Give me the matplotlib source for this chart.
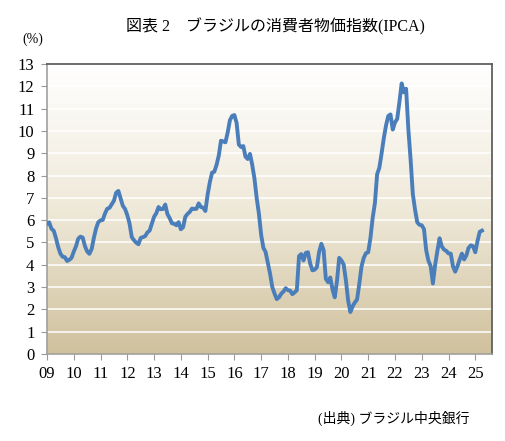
import numpy as np
import matplotlib.pyplot as plt
from matplotlib.colors import LinearSegmentedColormap

# IPCA 12-month change (%), monthly, Jan 2009 - Apr 2025
ipca_2009 = [5.84, 5.90, 5.61, 5.53, 5.20, 4.80, 4.50, 4.36, 4.34, 4.17, 4.22, 4.31]
ipca_2010 = [4.59, 4.83, 5.17, 5.26, 5.22, 4.84, 4.60, 4.49, 4.70, 5.20, 5.63, 5.91]
ipca_2011 = [5.99, 6.01, 6.30, 6.51, 6.55, 6.71, 6.87, 7.23, 7.31, 6.97, 6.64, 6.50]
ipca_2012 = [6.22, 5.85, 5.24, 5.10, 4.99, 4.92, 5.20, 5.24, 5.28, 5.45, 5.53, 5.84]
ipca_2013 = [6.15, 6.31, 6.59, 6.49, 6.50, 6.70, 6.27, 6.09, 5.86, 5.84, 5.77, 5.91]
ipca_2014 = [5.59, 5.68, 6.15, 6.28, 6.37, 6.52, 6.50, 6.51, 6.75, 6.59, 6.56, 6.41]
ipca_2015 = [7.14, 7.70, 8.13, 8.17, 8.47, 8.89, 9.56, 9.53, 9.49, 9.93, 10.48, 10.67]
ipca_2016 = [10.71, 10.36, 9.39, 9.28, 9.32, 8.84, 8.74, 8.97, 8.48, 7.87, 6.99, 6.29]
ipca_2017 = [5.35, 4.76, 4.57, 4.08, 3.60, 3.00, 2.71, 2.46, 2.54, 2.70, 2.80, 2.95]
ipca_2018 = [2.86, 2.84, 2.68, 2.76, 2.86, 4.39, 4.48, 4.19, 4.53, 4.56, 4.05, 3.75]
ipca_2019 = [3.78, 3.89, 4.58, 4.94, 4.66, 3.37, 3.22, 3.43, 2.89, 2.54, 3.27, 4.31]
ipca_2020 = [4.19, 4.01, 3.30, 2.40, 1.88, 2.13, 2.31, 2.44, 3.14, 3.92, 4.31, 4.52]
ipca_2021 = [4.56, 5.20, 6.10, 6.76, 8.06, 8.35, 8.99, 9.68, 10.25, 10.67, 10.74, 10.06]
ipca_2022 = [10.38, 10.54, 11.30, 12.13, 11.73, 11.89, 10.07, 8.73, 7.17, 6.47, 5.90, 5.79]
ipca_2023 = [5.77, 5.60, 4.65, 4.18, 3.94, 3.16, 3.99, 4.61, 5.19, 4.82, 4.68, 4.62]
ipca_2024 = [4.51, 4.50, 3.93, 3.69, 3.93, 4.23, 4.50, 4.24, 4.42, 4.76, 4.87, 4.83]
ipca_2025 = [4.56, 5.06, 5.48, 5.53]

ipca = (ipca_2009 + ipca_2010 + ipca_2011 + ipca_2012 + ipca_2013 + ipca_2014
        + ipca_2015 + ipca_2016 + ipca_2017 + ipca_2018 + ipca_2019 + ipca_2020
        + ipca_2021 + ipca_2022 + ipca_2023 + ipca_2024 + ipca_2025)
year_labels = ['09', '10', '11', '12', '13', '14', '15', '16', '17',
               '18', '19', '20', '21', '22', '23', '24', '25']

mixed = ['Liberation Serif', 'Noto Sans CJK JP']
num_font = 'Liberation Serif'

fig = plt.figure(figsize=(5.06, 4.41), dpi=100)
ax = fig.add_axes([47 / 506, 1 - 354 / 441, 445 / 506, 290 / 441])

xmax = 199.5
# background gradient
grad = LinearSegmentedColormap.from_list(
    'bg', [(0.0, '#d0c19d'), (0.5, '#efe9d9'), (1.0, '#ffffff')])
ax.imshow(np.linspace(0, 1, 256).reshape(-1, 1), cmap=grad, origin='lower',
          extent=[0, xmax, 0, 13], aspect='auto', zorder=0)

for yv in range(1, 13):
    ax.axhline(yv, color='white', lw=1.1, zorder=1)

x = np.arange(len(ipca))
ax.plot(x, ipca, color='#4a7ebb', lw=2.8, solid_joinstyle='round', zorder=3)

ax.set_xlim(0, xmax)
ax.set_ylim(0, 13)
ax.set_xticks(np.arange(len(year_labels)) * 12)
ax.set_xticklabels(year_labels)
ax.set_yticks(range(0, 14))
ax.tick_params(axis='both', direction='out', length=4, color='#999999',
               labelsize=12, pad=5)
for lab in ax.get_xticklabels() + ax.get_yticklabels():
    lab.set_fontfamily(num_font)
for side in ['left', 'bottom']:
    ax.spines[side].set_color('#a0a0a0')
    ax.spines[side].set_linewidth(1.2)
for side in ['top', 'right']:
    ax.spines[side].set_color('#606060')
    ax.spines[side].set_linewidth(1.3)

fig.text(275 / 506, 1 - 27 / 441, '図表 2　ブラジルの消費者物価指数(IPCA)',
         ha='center', va='center', fontsize=11.5, family=mixed)
fig.text(22 / 506, 1 - 39 / 441, '(%)', ha='left', va='center',
         fontsize=10, family=num_font)
fig.text(470 / 506, 1 - 418 / 441, '(出典) ブラジル中央銀行',
         ha='right', va='center', fontsize=10, family=mixed)

fig.savefig('out.png', dpi=100)
